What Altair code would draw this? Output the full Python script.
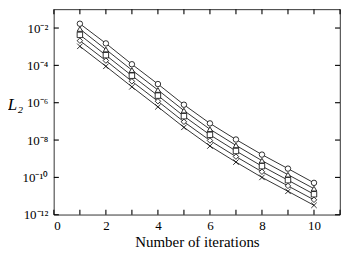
import altair as alt
import pandas as pd

# ---- data ----
iterations = [1, 2, 3, 4, 5, 6, 7, 8, 9, 10]
series_names = ["circle", "triangle", "square", "diamond", "cross"]
l2_circle = [1.7e-2, 1.5e-3, 1.15e-4, 1.0e-5, 7.8e-7, 7.8e-8, 1.07e-8, 1.66e-9, 2.95e-10, 5.1e-11]
l2_triangle = [8.9e-3, 7.1e-4, 5.6e-5, 4.8e-6, 3.8e-7, 3.8e-8, 5.2e-9, 7.9e-10, 1.4e-10, 2.5e-11]
l2_square = [4.3e-3, 3.5e-4, 2.8e-5, 2.4e-6, 1.9e-7, 1.9e-8, 2.6e-9, 4.0e-10, 7.1e-11, 1.25e-11]
l2_diamond = [2.1e-3, 1.8e-4, 1.4e-5, 1.2e-6, 9.5e-8, 9.5e-9, 1.3e-9, 2.0e-10, 3.5e-11, 6.3e-12]
l2_cross = [1.05e-3, 8.9e-5, 7.1e-6, 6.0e-7, 4.8e-8, 4.8e-9, 6.6e-10, 1.0e-10, 1.8e-11, 3.2e-12]

x_tick_values = [0, 1, 2, 3, 4, 5, 6, 7, 8, 9, 10, 11]
x_label_values = [0, 2, 4, 6, 8, 10]
y_tick_values = [1e-12, 1e-10, 1e-8, 1e-6, 1e-4, 1e-2]
y_tick_exponents = [-12, -10, -8, -6, -4, -2]
y_tick_labels = ["10⁻¹²", "10⁻¹⁰", "10⁻⁸", "10⁻⁶", "10⁻⁴", "10⁻²"]

rows = []
for name, vals in zip(series_names, [l2_circle, l2_triangle, l2_square, l2_diamond, l2_cross]):
    for it, v in zip(iterations, vals):
        rows.append({"iter": it, "L2": v, "series": name})
df = pd.DataFrame(rows)
x_ticks_df = pd.DataFrame({"xt": x_tick_values})
y_ticks_df = pd.DataFrame({"yt": y_tick_values})

FONT = "Liberation Serif"
W, H = 287, 206
TICK = 5

x_scale = alt.Scale(domain=[0, 11], nice=False, zero=False)
y_scale = alt.Scale(type="log", domain=[1e-12, 1e-1], nice=False)

y_label_expr = " : ".join(
    f"round(log(datum.value)/LN10) == {e} ? '{lab}'" for e, lab in zip(y_tick_exponents, y_tick_labels)
) + " : ''"

x_axis = alt.Axis(
    orient="bottom", values=x_label_values, ticks=False, domain=False, grid=False,
    labelFont=FONT, labelFontSize=13, labelColor="black", labelPadding=5,
    title="Number of iterations", titleFont=FONT, titleFontSize=15, titleFontWeight="normal",
    titleColor="black", titlePadding=2,
)
y_axis = alt.Axis(
    orient="left", values=y_tick_values, ticks=False, domain=False, grid=False,
    labelExpr=y_label_expr, labelFont=FONT, labelFontSize=13, labelColor="black",
    labelPadding=6,
    title="L₂", titleFont=FONT, titleFontSize=17, titleFontWeight="normal", titleFontStyle="italic",
    titleColor="black", titleAngle=0, titleAlign="center", titleBaseline="middle",
    titleX=-39, titleY=95,
)

rule_style = dict(color="black", strokeWidth=1.1, opacity=1)

# frame tick marks first (drawn underneath the data)
bottom_ticks = alt.Chart(x_ticks_df).mark_rule(**rule_style).encode(
    x=alt.X("xt:Q", scale=x_scale, axis=x_axis), y=alt.value(H), y2=alt.value(H - TICK))
top_ticks = alt.Chart(x_ticks_df).mark_rule(**rule_style).encode(
    x=alt.X("xt:Q", scale=x_scale, axis=None), y=alt.value(0), y2=alt.value(TICK))
left_ticks = alt.Chart(y_ticks_df).mark_rule(**rule_style).encode(
    y=alt.Y("yt:Q", scale=y_scale, axis=y_axis), x=alt.value(0), x2=alt.value(TICK))
right_ticks = alt.Chart(y_ticks_df).mark_rule(**rule_style).encode(
    y=alt.Y("yt:Q", scale=y_scale, axis=None), x=alt.value(W), x2=alt.value(W - TICK))

lines = alt.Chart(df).mark_line(color="black", strokeWidth=0.8).encode(
    x=alt.X("iter:Q", scale=x_scale, axis=None),
    y=alt.Y("L2:Q", scale=y_scale, axis=None),
    detail="series:N",
)

points = alt.Chart(df).mark_point(filled=True, fill="white", stroke="black", strokeWidth=0.8,
                                  size=30, opacity=1).encode(
    x=alt.X("iter:Q", scale=x_scale, axis=None),
    y=alt.Y("L2:Q", scale=y_scale, axis=None),
    shape=alt.Shape("series:N", scale=alt.Scale(
        domain=series_names,
        range=["circle", "triangle-up", "square", "diamond", "M-1,-1L1,1M-1,1L1,-1"])),
)

chart = (
    alt.layer(bottom_ticks, top_ticks, left_ticks, right_ticks, lines, points)
    .resolve_axis(x="independent", y="independent")
    .properties(width=W, height=H, autosize=alt.AutoSizeParams(type="none"),
                padding={"left": 46, "top": 1, "right": 2, "bottom": 35})
    .configure_view(stroke="black", strokeWidth=0.8)
    .configure_legend(disable=True)
)

chart.save("out.html", embed_options={"renderer": "svg", "actions": False})
